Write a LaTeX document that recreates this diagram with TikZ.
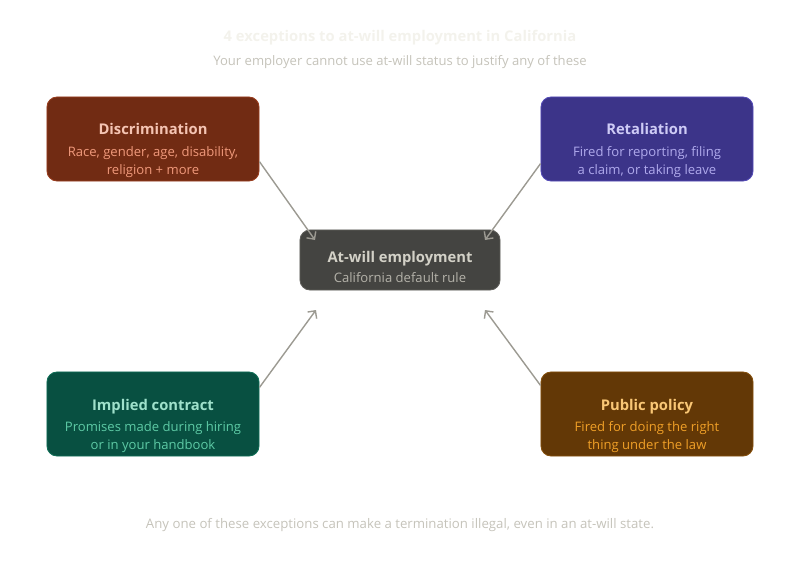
\documentclass[tikz,border=0pt]{standalone}
\usepackage{fontspec}
\setmainfont{Open Sans}
\usetikzlibrary{arrows.meta}

\definecolor{headgray}{HTML}{F3F2EC}
\definecolor{notegray}{HTML}{C5C3BA}
\definecolor{linkgray}{HTML}{9C9A92}
\definecolor{discfill}{HTML}{712B13}
\definecolor{discline}{HTML}{993C1D}
\definecolor{disctitle}{HTML}{F5C4B3}
\definecolor{disctext}{HTML}{F0997B}
\definecolor{retalfill}{HTML}{3C3489}
\definecolor{retalline}{HTML}{534AB7}
\definecolor{retaltitle}{HTML}{CECBF6}
\definecolor{retaltext}{HTML}{AFA9EC}
\definecolor{atwillfill}{HTML}{444441}
\definecolor{atwillline}{HTML}{5F5E5A}
\definecolor{atwilltitle}{HTML}{D3D1C7}
\definecolor{atwilltext}{HTML}{B4B2A9}
\definecolor{impliedfill}{HTML}{085041}
\definecolor{impliedline}{HTML}{0F6E56}
\definecolor{impliedtitle}{HTML}{9FE1CB}
\definecolor{impliedtext}{HTML}{5DCAA5}
\definecolor{policyfill}{HTML}{633806}
\definecolor{policyline}{HTML}{854F0B}
\definecolor{policytitle}{HTML}{FAC775}
\definecolor{policytext}{HTML}{EF9F27}

\begin{document}
\begin{tikzpicture}[x=0.025cm,y=-0.025cm,
  box/.style={rounded corners=0.25cm,line width=0.6pt,minimum width=5.3cm,minimum height=2.1cm},
  boxtitle/.style={anchor=base,font=\fontsize{10.5}{12}\selectfont\bfseries},
  boxtext/.style={anchor=base,align=center,font=\fontsize{9.3}{12.1}\selectfont},
  link/.style={draw=linkgray,line width=1pt,-{Straight Barb[length=4pt,width=8pt]}}]
\useasboundingbox (0,0) rectangle (800,564);

% heading
\node[anchor=base,text=headgray,font=\fontsize{10.5}{12}\selectfont\bfseries] (head) at (400,42) {4 exceptions to at-will employment in California};
\node[anchor=base,text=notegray,font=\fontsize{9.3}{12}\selectfont] (subhead) at (400,66) {Your employer cannot use at-will status to justify any of these};

% centre
\node[box,fill=atwillfill,draw=atwillline,minimum width=5cm,minimum height=1.5cm] (atwill) at (400,260) {};
\node[boxtitle,text=atwilltitle] (atwill-title) at (400,262) {At-will employment};
\node[boxtext,text=atwilltext] (atwill-text) at (400,282) {California default rule};

% exceptions (base of the two-line texts is their last line)
\node[box,fill=discfill,draw=discline] (disc) at (153,139) {};
\node[boxtitle,text=disctitle] (disc-title) at (153,135) {Discrimination};
\node[boxtext,text=disctext] (disc-text) at (153,174) {Race, gender, age, disability,\\religion + more};

\node[box,fill=retalfill,draw=retalline] (retal) at (647,139) {};
\node[boxtitle,text=retaltitle] (retal-title) at (647,135) {Retaliation};
\node[boxtext,text=retaltext] (retal-text) at (647,174) {Fired for reporting, filing\\a claim, or taking leave};

\node[box,fill=impliedfill,draw=impliedline] (implied) at (153,414) {};
\node[boxtitle,text=impliedtitle] (implied-title) at (153,410) {Implied contract};
\node[boxtext,text=impliedtext] (implied-text) at (153,449) {Promises made during hiring\\or in your handbook};

\node[box,fill=policyfill,draw=policyline] (policy) at (647,414) {};
\node[boxtitle,text=policytitle] (policy-title) at (647,410) {Public policy};
\node[boxtext,text=policytext] (policy-text) at (647,449) {Fired for doing the right\\thing under the law};

% arrows into the centre
\coordinate (tipA) at (315,240);
\coordinate (tipB) at (485,240);
\coordinate (tipC) at (316,310);
\coordinate (tipD) at (485,310);
\draw[link] (disc.-12.8) -- (tipA);
\draw[link] (retal.193.8) -- (tipB);
\draw[link] (implied.14.3) -- (tipC);
\draw[link] (policy.165.7) -- (tipD);

% footnote
\node[anchor=base,text=notegray,font=\fontsize{9.4}{12}\selectfont] (foot) at (400,528) {Any one of these exceptions can make a termination illegal, even in an at-will state.};
\end{tikzpicture}
\end{document}
